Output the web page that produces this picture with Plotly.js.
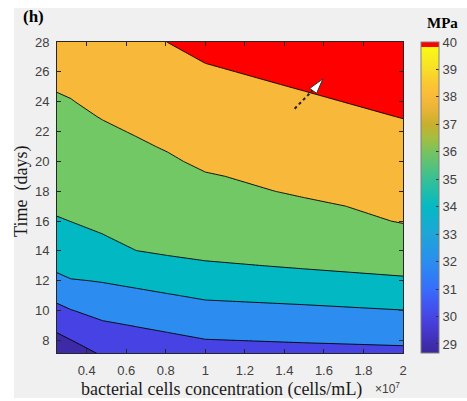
<!DOCTYPE html>
<html><head><meta charset="utf-8">
<script src="https://cdn.plot.ly/plotly-3.0.1.min.js"></script>
<style>
html,body{margin:0;padding:0;background:#ffffff;width:467px;height:401px;overflow:hidden}
#chart{position:absolute;left:0;top:0;width:467px;height:401px}
</style></head><body><div id="chart"></div>
<script>
// concentration in units of 10^7 cells/mL
const concentration = [0.25, 0.32, 0.48, 0.65, 0.81, 1.0, 1.5, 2.0];
const days = [7,8,9,10,11,12,13,14,15,16,17,18,19,20,21,22,23,24,25,26,27,28];
// strength (MPa) along time, one array per concentration
const s025 = [28.70,29.55,30.42,31.50,32.52,33.47,34.45,34.77,35.30,35.83,36.35,36.40,36.64,36.88,37.13,37.37,37.61,37.85,38.09,38.33,38.57,38.81];
const s032 = [29.06,29.96,30.96,31.93,32.93,33.87,34.87,34.97,35.49,36.02,36.25,36.49,36.74,36.98,37.22,37.46,37.71,37.95,38.19,38.44,38.68,38.93];
const s048 = [30.06,30.89,31.72,32.57,33.31,34.09,34.69,35.30,35.91,36.55,36.60,36.75,37.01,37.27,37.53,37.79,38.06,38.33,38.60,38.87,39.14,39.41];
const s065 = [30.50,31.28,32.06,32.84,33.61,34.39,35.19,35.98,36.65,36.70,36.80,37.04,37.30,37.56,37.82,38.09,38.36,38.63,38.90,39.17,39.44,39.71];
const s081 = [30.81,31.58,32.36,33.12,33.89,34.68,35.46,36.24,36.38,36.67,36.96,37.24,37.53,37.82,38.11,38.37,38.65,38.92,39.19,39.46,39.73,40.01];
const s100 = [31.18,31.94,32.69,33.46,34.22,34.98,35.74,36.51,36.56,36.89,37.23,37.57,37.90,38.25,38.47,38.74,39.02,39.29,39.57,39.84,40.12,40.39];
const s150 = [31.34,32.12,32.90,33.69,34.47,35.33,36.17,36.50,36.92,37.34,37.76,38.18,38.40,38.68,38.96,39.24,39.52,39.80,40.08,40.36,40.64,40.92];
const s200 = [31.48,32.28,33.13,33.97,34.72,35.73,36.60,36.96,37.52,38.09,38.33,38.61,38.90,39.18,39.47,39.75,40.04,40.32,40.61,40.89,41.18,41.46];
const contourLevels = [30, 40, 2]; // start, end, step
const colorRange = [28.67, 40];
const xTickVals = [0.4,0.6,0.8,1,1.2,1.4,1.6,1.8,2];
const xTickText = ['0.4','0.6','0.8','1','1.2','1.4','1.6','1.8','2'];
const yTickVals = [8,10,12,14,16,18,20,22,24,26,28];
const cbTickVals = [29,30,31,32,33,34,35,36,37,38,39,40];
const xTitle = 'bacterial cells concentration (cells/mL)';
const yTitle = 'Time\u00a0 (days)';

const columns = [s025, s032, s048, s065, s081, s100, s150, s200];
const z = days.map((d, i) => columns.map(col => col[i]));

const bandColors = ['rgb(61,42,166)','rgb(70,66,228)','rgb(45,140,240)','rgb(2,185,195)','rgb(114,200,100)','rgb(248,184,58)','rgb(255,0,0)'];
const stepScale = [];
bandColors.forEach((c, k) => {
  const a = k === 0 ? 0 : (2*k - 1) / 12;
  const b = k === bandColors.length - 1 ? 1 : (2*k + 1) / 12;
  stepScale.push([a, c]); stepScale.push([b, c]);
});

const span = colorRange[1] - colorRange[0];
const pv = v => (v - colorRange[0]) / span;
const parula = [
  [0, 'rgb(58,40,155)'], [pv(29), 'rgb(63,45,175)'], [pv(29.5), 'rgb(70,56,205)'],
  [pv(30), 'rgb(70,70,228)'], [pv(30.5), 'rgb(64,88,242)'], [pv(31), 'rgb(55,110,250)'],
  [pv(31.5), 'rgb(48,126,245)'], [pv(32), 'rgb(42,142,238)'], [pv(33), 'rgb(30,165,215)'],
  [pv(34), 'rgb(5,185,195)'], [pv(35), 'rgb(55,192,150)'], [pv(36), 'rgb(120,195,95)'],
  [pv(36.5), 'rgb(165,190,65)'], [pv(37), 'rgb(200,175,45)'], [pv(37.5), 'rgb(230,180,55)'],
  [pv(38), 'rgb(250,185,58)'], [pv(38.5), 'rgb(250,200,50)'], [pv(39), 'rgb(247,222,40)'],
  [pv(39.5), 'rgb(248,240,28)'], [pv(39.82), 'rgb(249,250,20)'], [pv(39.82), 'rgb(255,0,0)'], [1, 'rgb(255,0,0)']
];

const tickFont = {family:'Liberation Sans, Arial, sans-serif', size:13, color:'#404040'};
const serif = 'Liberation Serif, Times New Roman, serif';

const traces = [
  {
    type:'contour', x: concentration, y: days, z: z,
    autocontour:false,
    contours:{start:contourLevels[0], end:contourLevels[1], size:contourLevels[2], coloring:'fill', showlines:true},
    line:{color:'#000000', width:0.9, smoothing:0},
    colorscale: stepScale, showscale:false, hoverinfo:'x+y+z'
  },
  {
    type:'scatter', mode:'markers', x:[concentration[0]], y:[days[0]], hoverinfo:'skip', showlegend:false,
    marker:{size:1, opacity:0, color:[colorRange[0]], cmin:colorRange[0], cmax:colorRange[1], colorscale: parula, showscale:true,
      colorbar:{x:1.052, xanchor:'left', y:0.5, yanchor:'middle', len:1, lenmode:'fraction', thickness:18, thicknessmode:'pixels',
        xpad:0, ypad:0, outlinewidth:1, outlinecolor:'#808080', ticks:'inside', ticklen:3, tickcolor:'#333333',
        tickvals: cbTickVals, tickfont: tickFont, ticklabelstandoff: 4}}
  }
];

const axisCommon = {ticks:'inside', ticklen:4, tickcolor:'#262626', tickwidth:1, showline:true, linecolor:'#262626', linewidth:1,
  mirror:'ticks', showgrid:false, zeroline:false, tickfont: tickFont, automargin:false};

const layout = {
  width:467, height:401,
  margin:{l:57, r:64, t:42, b:48, pad:0, autoexpand:false},
  paper_bgcolor:'#ffffff', plot_bgcolor:'rgba(0,0,0,0)', showlegend:false,
  font:{family:'Liberation Sans, Arial, sans-serif', size:13, color:'#404040'},
  xaxis: Object.assign({}, axisCommon, {range:[0.25, 2], tickmode:'array', tickvals:xTickVals, ticktext:xTickText, ticklabelstandoff:5}),
  yaxis: Object.assign({}, axisCommon, {range:[7.16, 28], tickmode:'array', tickvals:yTickVals, ticklabelstandoff:4}),
  annotations:[
    {xref:'paper', yref:'paper', x:0.474, y:-0.1158, xanchor:'center', yanchor:'middle', showarrow:false,
      text:xTitle, font:{family:serif, size:18, color:'#1a1a1a'}},
    {xref:'paper', yref:'paper', x:-0.1012, y:0.521, xanchor:'center', yanchor:'middle', showarrow:false, textangle:-90,
      text:yTitle, font:{family:serif, size:18, color:'#1a1a1a'}},
    {xref:'paper', yref:'paper', x:-0.0665, y:1.0804, xanchor:'center', yanchor:'middle', showarrow:false,
      text:'<b>(h)</b>', font:{family:serif, size:17, color:'#000000'}},
    {xref:'paper', yref:'paper', x:1.1156, y:1.0611, xanchor:'center', yanchor:'middle', showarrow:false,
      text:'<b>MPa</b>', font:{family:serif, size:15, color:'#000000'}},
    {xref:'paper', yref:'paper', x:0.913, y:-0.113, xanchor:'left', yanchor:'middle', showarrow:false,
      text:'\u00d710<sup>7</sup>', font:{family:'Liberation Sans, Arial, sans-serif', size:12, color:'#404040'}}
  ],
  shapes:[
    {type:'rect', xref:'paper', yref:'paper', x0:-0.1243, x1:1.19, y0:-0.1447, y1:1.1093, layer:'below',
      fillcolor:'#f0f0f0', line:{width:0}},
    {type:'line', xref:'x', yref:'y', x0:1.452, y0:23.53, x1:1.59, y1:25.4, line:{color:'#222222', width:2, dash:'dot'}},
    {type:'path', xref:'x', yref:'y', path:'M 1.595 25.53 L 1.528 24.89 L 1.563 24.56 Z', fillcolor:'#ffffff', line:{color:'#333333', width:1}}
  ]
};

Plotly.newPlot('chart', traces, layout, {displayModeBar:false, staticPlot:true});
</script></body></html>
